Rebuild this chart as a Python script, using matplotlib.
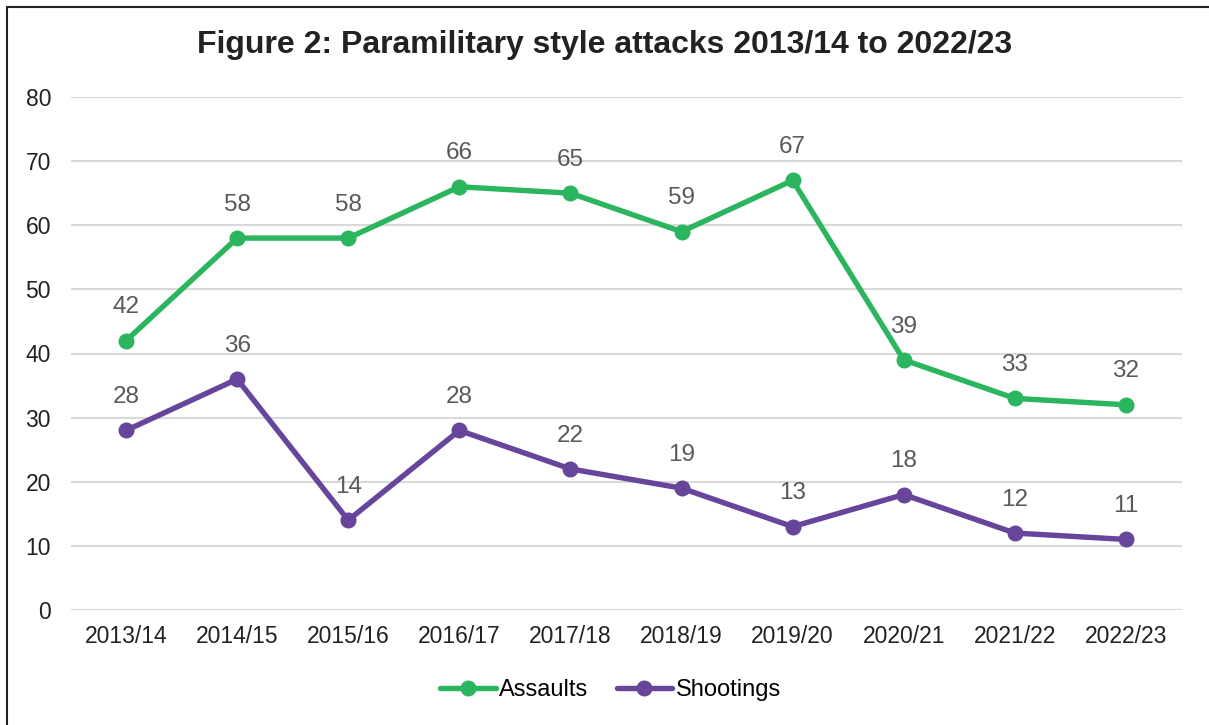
import matplotlib.pyplot as plt
from matplotlib.patches import Rectangle

years = ["2013/14", "2014/15", "2015/16", "2016/17", "2017/18",
         "2018/19", "2019/20", "2020/21", "2021/22", "2022/23"]
assaults = [42, 58, 58, 66, 65, 59, 67, 39, 33, 32]
shootings = [28, 36, 14, 28, 22, 19, 13, 18, 12, 11]

green = "#2BB55F"
purple = "#66459B"
label_grey = "#595959"

plt.rcParams["font.family"] = ["Liberation Sans", "DejaVu Sans"]

W, H = 1209, 725
fig = plt.figure(figsize=(W / 100, H / 100), dpi=100)
ax = fig.add_axes([70.5 / W, 1 - 610 / H, 1111 / W, 513 / H])

x = range(len(years))
for vals, color, name in [(assaults, green, "Assaults"), (shootings, purple, "Shootings")]:
    ax.plot(x, vals, color=color, lw=3.9, marker="o", ms=10.5, label=name,
            solid_capstyle="round", zorder=3)
    for xi, v in zip(x, vals):
        ax.annotate(str(v), (xi, v), xytext=(0, 24), textcoords="offset points",
                    ha="center", va="center", fontsize=17.5, color=label_grey)

ax.set_xlim(-0.5, len(years) - 0.5)
ax.set_ylim(0, 80)
ax.set_yticks(range(0, 81, 10))
ax.set_xticks(list(x))
ax.set_xticklabels(years)
ax.grid(axis="y", color="#D9D9D9", lw=1.5)
ax.set_axisbelow(True)
for s in ax.spines.values():
    s.set_visible(False)
ax.tick_params(length=0, labelsize=16.5, colors="#222222")
ax.tick_params(axis="y", pad=14)
ax.tick_params(axis="x", pad=11)

fig.text(0.5, 1 - 45 / H, "Figure 2: Paramilitary style attacks 2013/14 to 2022/23",
         ha="center", va="center", fontsize=23, fontweight="bold", color="#222222")

fig.legend(loc="center", bbox_to_anchor=(0.505, 1 - 690 / H), ncol=2, frameon=False,
           fontsize=17, handlelength=2.35, handletextpad=0.15, columnspacing=1.2)

# outer frame (clipped at right and bottom in the source)
fig.patches.append(Rectangle((7 / W, -0.05), 1.1, 1 - 7 / H + 0.05,
                             transform=fig.transFigure, fill=False,
                             edgecolor="#222222", lw=1.5))

fig.savefig("out.png", dpi=100)
